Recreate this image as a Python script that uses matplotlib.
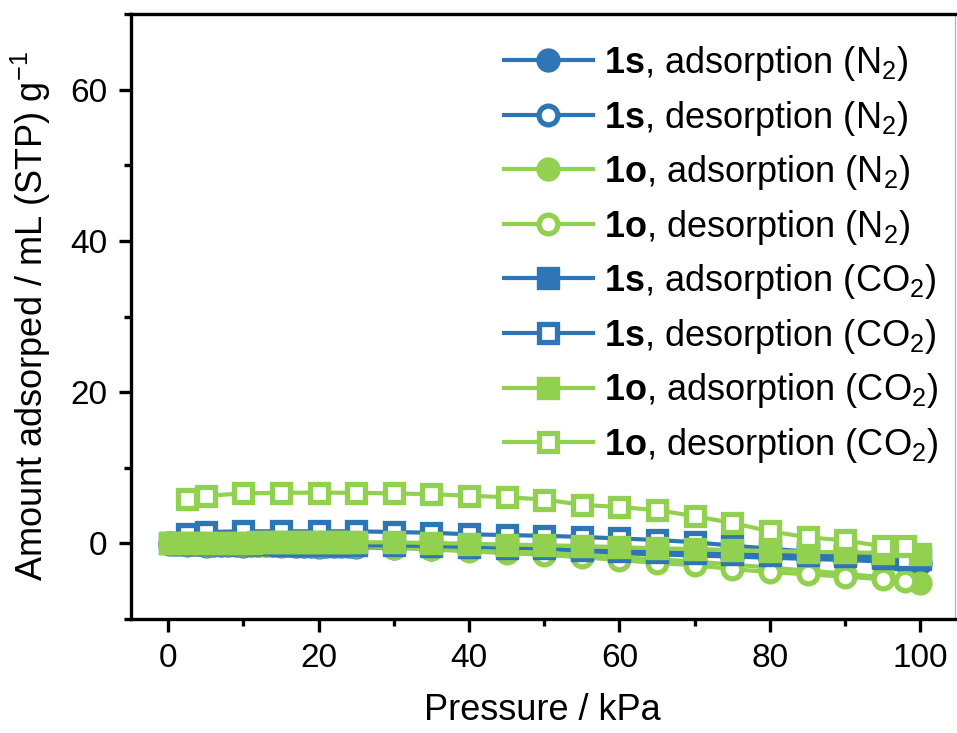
import matplotlib
matplotlib.use('Agg')
import matplotlib.pyplot as plt
from matplotlib.ticker import MultipleLocator

plt.rcParams['font.family'] = ['Liberation Sans', 'DejaVu Sans']
plt.rcParams['mathtext.fontset'] = 'custom'
plt.rcParams['mathtext.rm'] = 'Liberation Sans'
plt.rcParams['mathtext.bf'] = 'Liberation Sans:bold'
plt.rcParams['mathtext.it'] = 'Liberation Sans:italic'

BLUE = '#2E75B6'
GREEN = '#92D050'

# ---------------- data ----------------
ads_x = [0.3, 1, 2, 3, 4, 5, 6, 7, 8, 9, 10, 11, 12, 13, 14, 15, 16, 17, 18, 19,
         20, 21, 22, 23, 24, 25, 30, 35, 40, 45, 50, 55, 60, 65, 70, 75, 80, 85,
         90, 95, 100]
des_x = [2.5, 5, 10, 15, 20, 25, 30, 35, 40, 45, 50, 55, 60, 65, 70, 75, 80, 85,
         90, 95, 98]

s_ads_n2 = [-0.05, -0.08, -0.1, -0.12, -0.14, -0.16, -0.17, -0.18, -0.2, -0.21,
            -0.22, -0.23, -0.24, -0.25, -0.26, -0.27, -0.28, -0.29, -0.3, -0.31,
            -0.32, -0.33, -0.34, -0.35, -0.36, -0.37, -0.45, -0.55, -0.65, -0.75,
            -0.85, -1.0, -1.15, -1.3, -1.45, -1.6, -1.75, -1.9, -2.05, -2.25, -2.6]
s_des_n2 = [-0.25, -0.3, -0.35, -0.4, -0.45, -0.5, -0.6, -0.7, -0.8, -0.9, -1.0,
            -1.15, -1.3, -1.45, -1.6, -1.75, -1.9, -2.05, -2.2, -2.4, -2.5]
o_ads_n2 = [0.0, -0.02, -0.04, -0.05, -0.06, -0.07, -0.08, -0.09, -0.1, -0.11,
            -0.12, -0.13, -0.14, -0.15, -0.16, -0.17, -0.18, -0.19, -0.2, -0.21,
            -0.22, -0.23, -0.24, -0.25, -0.26, -0.28, -0.4, -0.6, -0.8, -1.0,
            -1.2, -1.5, -1.8, -2.1, -2.4, -2.8, -3.2, -3.6, -4.0, -4.5, -5.3]
o_des_n2 = [-0.1, -0.15, -0.2, -0.25, -0.3, -0.35, -0.55, -0.8, -1.05, -1.3, -1.5,
            -1.85, -2.2, -2.6, -2.9, -3.4, -3.8, -4.1, -4.4, -4.75, -5.0]
s_ads_co2 = [0.0, -0.01, -0.02, -0.03, -0.04, -0.05, -0.06, -0.07, -0.08, -0.09,
             -0.1, -0.11, -0.12, -0.13, -0.14, -0.15, -0.16, -0.17, -0.18, -0.19,
             -0.2, -0.21, -0.22, -0.23, -0.24, -0.25, -0.27, -0.35, -0.45, -0.55,
             -0.65, -0.9, -1.0, -1.15, -1.25, -1.45, -1.5, -1.6, -1.7, -1.9, -2.1]
s_des_co2 = [1.3, 1.5, 1.6, 1.6, 1.6, 1.6, 1.5, 1.4, 1.2, 1.1, 1.0, 0.85, 0.65,
             0.45, 0.15, -0.3, -0.7, -1.1, -1.4, -1.8, -2.0]
o_ads_co2 = [0.0, 0.02, 0.04, 0.05, 0.06, 0.07, 0.08, 0.09, 0.1, 0.1, 0.11, 0.11,
             0.12, 0.12, 0.13, 0.13, 0.13, 0.14, 0.14, 0.14, 0.15, 0.15, 0.15,
             0.15, 0.15, 0.15, 0.13, 0.05, -0.05, -0.15, -0.25, -0.35, -0.5,
             -0.65, -0.75, -0.89, -1.0, -1.1, -1.2, -1.25, -1.4]
o_des_co2 = [5.9, 6.3, 6.6, 6.7, 6.7, 6.7, 6.6, 6.5, 6.3, 6.1, 5.8, 5.1, 4.8, 4.4,
             3.6, 2.7, 1.6, 0.8, 0.4, -0.4, -0.4]

labels = [r'$\mathbf{1s}$, adsorption (N$_2$)',
          r'$\mathbf{1s}$, desorption (N$_2$)',
          r'$\mathbf{1o}$, adsorption (N$_2$)',
          r'$\mathbf{1o}$, desorption (N$_2$)',
          r'$\mathbf{1s}$, adsorption (CO$_2$)',
          r'$\mathbf{1s}$, desorption (CO$_2$)',
          r'$\mathbf{1o}$, adsorption (CO$_2$)',
          r'$\mathbf{1o}$, desorption (CO$_2$)']

series = [
    (ads_x, s_ads_n2, BLUE, 'o', True),
    (des_x, s_des_n2, BLUE, 'o', False),
    (ads_x, o_ads_n2, GREEN, 'o', True),
    (des_x, o_des_n2, GREEN, 'o', False),
    (ads_x, s_ads_co2, BLUE, 's', True),
    (des_x, s_des_co2, BLUE, 's', False),
    (ads_x, o_ads_co2, GREEN, 's', True),
    (des_x, o_des_co2, GREEN, 's', False),
]

fig = plt.figure(figsize=(9.57, 7.33), dpi=100)
ax = fig.add_axes([130.5 / 957, 114 / 733, (955 - 130.5) / 957, 605 / 733])

for (x, y, c, m, filled), lab in zip(series, labels):
    if filled:
        ax.plot(x, y, color=c, lw=3, marker=m, ms=16.5, mfc=c, mec=c, mew=1,
                label=lab)
    else:
        ax.plot(x, y, color=c, lw=3, marker=m, ms=13.5, mfc='white', mec=c,
                mew=3.8, label=lab)

ax.set_xlim(-5, 104.6)
ax.set_ylim(-10, 70)
ax.xaxis.set_major_locator(MultipleLocator(20))
ax.xaxis.set_minor_locator(MultipleLocator(10))
ax.yaxis.set_major_locator(MultipleLocator(20))
ax.yaxis.set_minor_locator(MultipleLocator(10))
ax.tick_params(which='major', direction='out', length=9, width=2.4,
               labelsize=24, pad=8, top=False, right=False)
ax.tick_params(which='minor', direction='out', length=5, width=2.4,
               top=False, right=False)

for s in ['left', 'bottom', 'top']:
    ax.spines[s].set_linewidth(2.4)
    ax.spines[s].set_color('black')
ax.spines['right'].set_linewidth(0.8)
ax.spines['right'].set_color('#b0b0b0')

ax.set_xlabel('Pressure / kPa', fontsize=26, labelpad=14)
ax.set_ylabel('Amount adsorped / mL (STP) g$^{-1}$', fontsize=26, labelpad=12)

ax.legend(loc='upper right', bbox_to_anchor=(938 / 957, 1 - 44 / 733),
          bbox_transform=fig.transFigure, frameon=False, fontsize=26,
          handlelength=2.45, handletextpad=0.3, labelspacing=0.43,
          borderpad=0, borderaxespad=0)

fig.savefig('out.png', dpi=100)
